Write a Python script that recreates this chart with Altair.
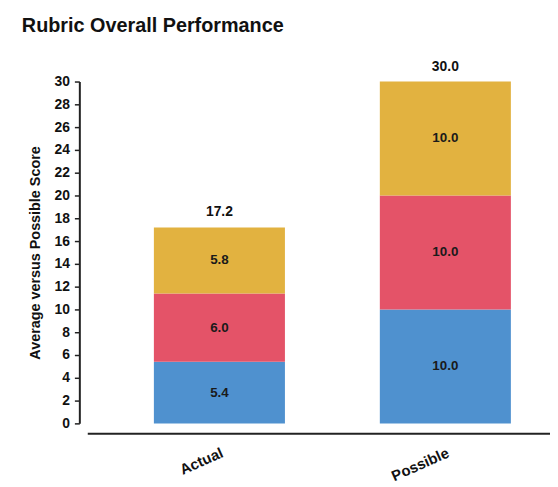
import altair as alt
import pandas as pd

categories = ["Actual", "Possible"]
segments = ["Part 1", "Part 2", "Part 3"]
actual_values = [5.4, 6.0, 5.8]
possible_values = [10.0, 10.0, 10.0]
segment_colors = ["#4F91CF", "#E45368", "#E2B240"]
y_ticks = [0, 2, 4, 6, 8, 10, 12, 14, 16, 18, 20, 22, 24, 26, 28, 30]

rows = []
for cat, vals in zip(categories, [actual_values, possible_values]):
    for i, (seg, v) in enumerate(zip(segments, vals)):
        rows.append({"category": cat, "segment": seg, "order": i, "value": v})
df = pd.DataFrame(rows)

FONT = "Liberation Sans"

x_axis = alt.Axis(
    labelAngle=-24, labelFontSize=15, labelFontWeight="bold", labelColor="#111",
    labelFont=FONT, ticks=False, domainColor="#222", domainWidth=2, offset=10,
    labelPadding=12,
)
x_scale = alt.Scale(paddingInner=0.42, paddingOuter=0.234, align=0.63)
y_scale = alt.Scale(domain=[0, 30], nice=False)
y_axis = alt.Axis(
    values=y_ticks, grid=False, offset=8, labelOverlap=False, tickCount=16,
    domainColor="#222", domainWidth=2, tickColor="#222", tickWidth=1.5,
    tickSize=5, labelFontSize=14, labelFontWeight="bold", labelColor="#111",
    labelFont=FONT, labelPadding=5, titleFont=FONT, titleFontSize=14.5,
    titleFontWeight="bold", titleColor="#111", titlePadding=12,
)
Y_TITLE = "Average versus Possible Score"

def xe():
    return alt.X("category:N", sort=categories, title=None, scale=x_scale, axis=x_axis)

bars = alt.Chart(df).mark_bar().encode(
    x=xe(),
    y=alt.Y("value:Q", stack="zero", scale=y_scale, title=Y_TITLE, axis=y_axis),
    color=alt.Color("segment:N", scale=alt.Scale(domain=segments, range=segment_colors), legend=None),
    order=alt.Order("order:Q"),
)

seg_text = alt.Chart(df).mark_text(
    fontSize=13.5, fontWeight="bold", font=FONT, color="#1a1a1a"
).encode(
    x=xe(),
    y=alt.Y("mid:Q", scale=y_scale, title=Y_TITLE, axis=y_axis),
    text=alt.Text("value:Q", format=".1f"),
).transform_window(
    cum="sum(value)", groupby=["category"], sort=[alt.SortField("order")]
).transform_calculate(mid="datum.cum - datum.value / 2")

totals = alt.Chart(df).mark_text(
    fontSize=14, fontWeight="bold", font=FONT, color="#111", baseline="bottom", dy=-8
).encode(
    x=xe(),
    y=alt.Y("total:Q", scale=y_scale, title=Y_TITLE, axis=y_axis),
    text=alt.Text("total:Q", format=".1f"),
).transform_aggregate(total="sum(value)", groupby=["category"])

chart = alt.layer(bars, seg_text, totals).properties(
    width=467,
    height=345,
    autosize=alt.AutoSizeParams(type="none"),
    padding={"left": 80, "top": 72, "right": 0, "bottom": 62},
    title=alt.TitleParams(
        "Rubric Overall Performance", anchor="start", frame="group", dx=-66,
        fontSize=20, fontWeight="bold", font=FONT, color="#111", offset=24,
    ),
).configure_view(stroke=None)

chart.save("out.html", embed_options={"renderer": "svg", "actions": False})
